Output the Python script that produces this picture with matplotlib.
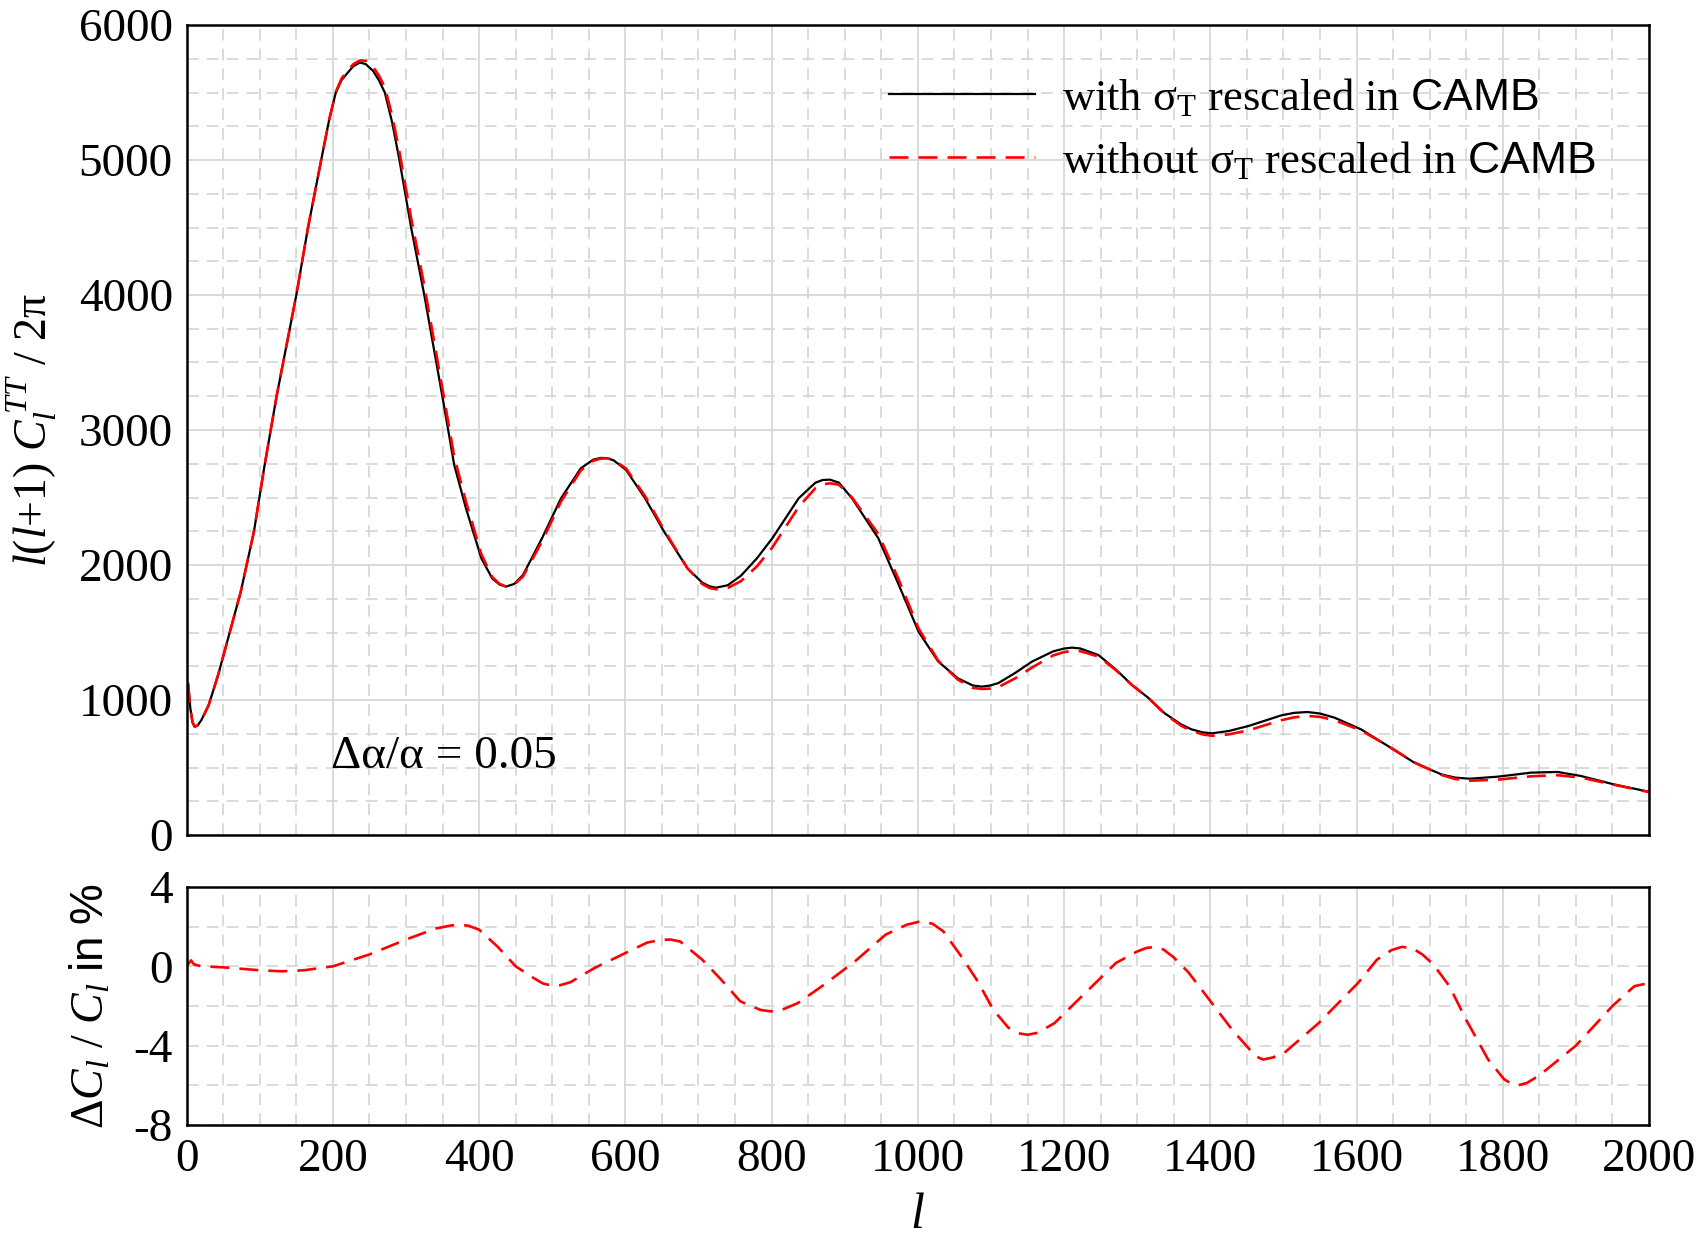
import matplotlib
matplotlib.use("Agg")
import matplotlib.pyplot as plt
from matplotlib.ticker import MultipleLocator, FixedLocator

plt.rcParams['font.family'] = ['Liberation Serif', 'DejaVu Serif']
plt.rcParams['mathtext.fontset'] = 'custom'
plt.rcParams['mathtext.rm'] = 'Liberation Serif'
plt.rcParams['mathtext.it'] = 'Liberation Serif:italic'
plt.rcParams['mathtext.sf'] = 'Liberation Sans'
plt.rcParams['axes.unicode_minus'] = False

# ---------------- data ----------------
l_top = [2, 5, 8, 11, 15, 20, 30, 43, 53, 74, 92, 106, 115, 123, 150, 166, 184, 195,
         204, 212, 220, 228, 237, 245, 255, 263, 271, 281, 291, 307, 325, 350, 366, 382,
         403, 418, 428, 437, 448, 460, 486, 512, 539, 556, 566, 575, 584, 601, 627, 653,
         685, 705, 715, 724, 740, 758, 780, 801, 837, 860, 870, 880, 892, 910, 946, 974,
         1001, 1028, 1055, 1075, 1087, 1098, 1110, 1133, 1156, 1185, 1200, 1211, 1222,
         1247, 1270, 1293, 1315, 1338, 1360, 1374, 1390, 1402, 1425, 1452, 1497, 1515,
         1533, 1550, 1570, 1606, 1643, 1679, 1716, 1735, 1755, 1793, 1839, 1875, 1907,
         1952, 2000]
cl_with = [1120, 940, 835, 802, 812, 850, 960, 1185, 1383, 1802, 2247, 2720, 3000, 3250,
           4000, 4500, 5000, 5300, 5500, 5593, 5645, 5695, 5722, 5710, 5660, 5590, 5500,
           5280, 5000, 4500, 4000, 3240, 2740, 2420, 2050, 1900, 1855, 1840, 1860, 1926,
           2198, 2494, 2716, 2780, 2793, 2792, 2775, 2704, 2494, 2247, 1975, 1870, 1842,
           1832, 1850, 1920, 2050, 2198, 2494, 2610, 2630, 2632, 2610, 2494, 2198, 1852,
           1506, 1284, 1160, 1108, 1099, 1106, 1125, 1200, 1284, 1360, 1381, 1388, 1382,
           1333, 1230, 1111, 1017, 900, 820, 783, 760, 753, 770, 807, 886, 905, 911, 900,
           869, 783, 659, 536, 449, 425, 417, 432, 462, 467, 437, 375, 320]
cl_without = [1120, 940, 835, 802, 812, 850, 960, 1185, 1383, 1802, 2247, 2720, 3000, 3250,
              4000, 4500, 5000, 5300, 5505, 5605, 5660, 5710, 5738, 5735, 5690, 5625, 5540,
              5330, 5060, 4570, 4070, 3300, 2800, 2470, 2080, 1910, 1860, 1840, 1855, 1915,
              2175, 2470, 2700, 2772, 2788, 2790, 2778, 2715, 2510, 2260, 1975, 1860, 1830,
              1820, 1830, 1880, 1990, 2130, 2430, 2570, 2598, 2605, 2595, 2500, 2230, 1890,
              1530, 1290, 1150, 1090, 1082, 1084, 1095, 1160, 1240, 1330, 1355, 1363, 1362,
              1322, 1225, 1110, 1017, 895, 810, 770, 745, 735, 745, 775, 850, 872, 882, 875,
              850, 775, 660, 538, 445, 415, 402, 410, 435, 443, 425, 372, 318]

l_diff = [0, 3, 6, 10, 20, 50, 100, 130, 160, 200, 250, 300, 340, 360, 372, 385, 400, 425,
          450, 475, 487, 499, 511, 525, 558, 600, 630, 650, 662, 675, 705, 731, 757, 785,
          799, 815, 836, 872, 914, 956, 985, 1004, 1020, 1035, 1061, 1082, 1103, 1124,
          1138, 1150, 1164, 1187, 1229, 1271, 1300, 1312, 1323, 1336, 1350, 1370, 1400,
          1430, 1454, 1463, 1472, 1485, 1500, 1548, 1602, 1628, 1648, 1662, 1676, 1690,
          1705, 1727, 1750, 1780, 1802, 1812, 1821, 1833, 1850, 1900, 1950, 1980, 2000]
diff_pct = [0.0, 0.15, 0.3, 0.1, 0.0, -0.05, -0.2, -0.25, -0.2, 0.0, 0.6, 1.35, 1.9, 2.05,
            2.1, 2.05, 1.85, 1.0, 0.0, -0.6, -0.86, -0.97, -0.95, -0.8, -0.08, 0.67, 1.2,
            1.34, 1.35, 1.25, 0.34, -0.67, -1.76, -2.2, -2.27, -2.18, -1.85, -0.92, 0.25,
            1.6, 2.1, 2.27, 2.15, 1.76, 0.42, -0.76, -2.18, -3.1, -3.38, -3.45, -3.35,
            -2.86, -1.34, 0.17, 0.75, 0.92, 0.98, 0.85, 0.45, -0.3, -1.75, -3.2, -4.2,
            -4.55, -4.7, -4.6, -4.4, -2.87, -0.84, 0.34, 0.82, 0.98, 0.92, 0.6, 0.1, -1.0,
            -2.7, -4.7, -5.7, -5.92, -6.0, -5.88, -5.5, -4.0, -2.0, -1.0, -0.84]

label_with = r'with σ$_{\mathrm{T}}$ rescaled in $\mathsf{CAMB}$'
label_without = r'without σ$_{\mathrm{T}}$ rescaled in $\mathsf{CAMB}$'
annotation = 'Δα/α = 0.05'
ylabel_top = r'$l$($l$+1) $C_l^{\,TT}$ / 2π'
ylabel_bottom = r'Δ$C_l$ / $C_l$ $\mathsf{in\ \%}$'
xlabel = r'$l$'

# ---------------- figure ----------------
fig = plt.figure(figsize=(17, 12.5), dpi=100)
ax1 = fig.add_axes([0.1098, 0.332, 0.8602, 0.648])
ax2 = fig.add_axes([0.1098, 0.100, 0.8602, 0.1904])

GRID = '#d8d8d8'
TICKFS = 34
RED_DASH = (0, (7.2, 3.8))
GRID_DASH = (0, (6.5, 4.5))

def style_axes(ax):
    for s in ax.spines.values():
        s.set_linewidth(1.8)
        s.set_color('black')
        s.set_zorder(5)
    ax.tick_params(which='both', length=0, labelsize=TICKFS, pad=10)
    ax.set_axisbelow(True)

# top panel
ax1.plot(l_top, cl_with, color='black', lw=1.6, label=label_with, zorder=3)
ax1.plot(l_top, cl_without, color='red', lw=1.9, linestyle=RED_DASH,
         label=label_without, zorder=4)
ax1.set_xlim(0, 2000)
ax1.set_ylim(0, 6000)
ax1.xaxis.set_major_locator(MultipleLocator(200))
ax1.xaxis.set_minor_locator(MultipleLocator(50))
ax1.yaxis.set_major_locator(MultipleLocator(1000))
ax1.yaxis.set_minor_locator(MultipleLocator(250))
ax1.grid(which='major', color=GRID, lw=1.3, linestyle='-')
ax1.grid(which='minor', color=GRID, lw=1.3, linestyle=GRID_DASH)
ax1.set_xticklabels([])
style_axes(ax1)
ax1.set_ylabel(ylabel_top, fontsize=33, labelpad=14)

leg = ax1.legend(loc='upper left', bbox_to_anchor=(0.480, 0.936), frameon=False,
                 fontsize=32, handlelength=3.3, handletextpad=0.6, labelspacing=0.47,
                 borderpad=0, borderaxespad=0)

ax1.text(197, 495, annotation, fontsize=34, ha='left', va='baseline', zorder=6)

# bottom panel
ax2.plot(l_diff, diff_pct, color='red', lw=1.9, linestyle=RED_DASH, zorder=4)
ax2.set_xlim(0, 2000)
ax2.set_ylim(-8, 4)
ax2.xaxis.set_major_locator(MultipleLocator(200))
ax2.xaxis.set_minor_locator(MultipleLocator(50))
ax2.yaxis.set_major_locator(FixedLocator([-8, -4, 0, 4]))
ax2.yaxis.set_minor_locator(FixedLocator([-6, -2, 2]))
ax2.grid(axis='x', which='major', color=GRID, lw=1.3, linestyle='-')
ax2.grid(axis='x', which='minor', color=GRID, lw=1.3, linestyle=GRID_DASH)
ax2.grid(axis='y', which='both', color=GRID, lw=1.3, linestyle=GRID_DASH)
style_axes(ax2)
ax2.set_ylabel(ylabel_bottom, fontsize=33, labelpad=14)
ax2.set_xlabel(xlabel, fontsize=36, labelpad=8)

fig.savefig('out.png', dpi=100)
